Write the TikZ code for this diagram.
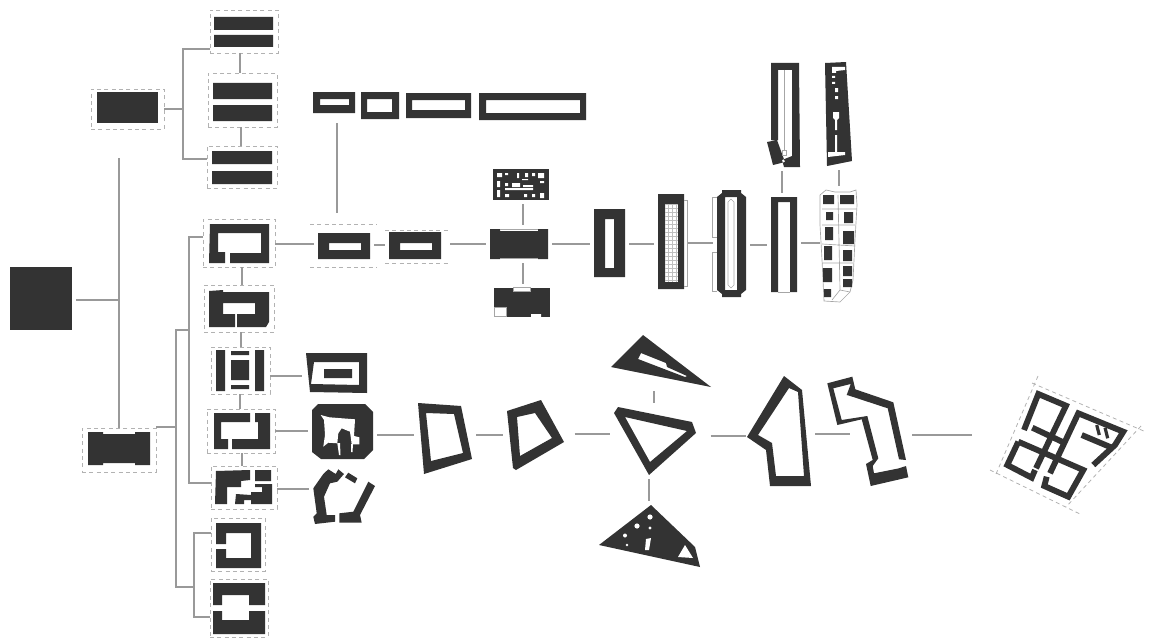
\documentclass[tikz,border=0pt]{standalone}
\usepackage{tikz}
\usetikzlibrary{fit}
\definecolor{ink}{HTML}{333333}
\definecolor{wire}{HTML}{999999}
\definecolor{fencegray}{HTML}{B2B2B2}

\begin{document}
\begin{tikzpicture}[
        x=0.75pt,y=-0.75pt,
        box/.style={inner sep=0pt,outer sep=3pt},
        site/.style={inner sep=0pt,outer sep=0pt,draw=fencegray,line width=.6pt,dash pattern=on 3pt off 2.5pt},
        fence/.style={draw=fencegray,line width=.6pt,dash pattern=on 3pt off 2.5pt},
        link/.style={draw=wire,line width=1pt},
        plan/.style={fill=ink,even odd rule},
        gap/.style={fill=white},
        trace/.style={draw=gray!70,line width=.5pt},
        wall/.style={draw=ink,line width=4.4pt,miter limit=4}
      ]
      \useasboundingbox (0,0) rectangle (1152,642);

      % left column
      \node (sq) [box,fit={(10,267) (72,330)}] {};
      \node (upper) [site,fit={(91,89) (164,129)}] {};
      \node (ua) [site,fit={(210,10) (278,53)}] {};
      \node (ub) [site,fit={(208,73) (277,127)}] {};
      \node (uc) [site,fit={(207,146) (277,188)}] {};
      \node (lower) [site,fit={(82,428) (156,472)}] {};
      \node (ra) [site,fit={(203,219) (275,267)}] {};
      \node (rb) [site,fit={(204,285) (274,332)}] {};
      \node (rc) [site,fit={(211,347) (270,394)}] {};
      \node (rd) [site,fit={(207,409) (275,453)}] {};
      \node (re) [site,fit={(211,466) (277,509)}] {};
      \node (rf) [site,fit={(211,518) (265,571)}] {};
      \node (rg) [site,fit={(210,579) (268,637)}] {};

      \fill[plan] (10,267) rectangle (72,330);
      \fill[plan] (97,92) rectangle (158,123);
      \fill[plan] (214,17) rectangle (273,30) (214,35) rectangle (273,47);
      \fill[plan] (213,83) rectangle (272,99) (213,105) rectangle (272,121);
      \fill[plan] (212,151) rectangle (272,164) (212,171) rectangle (272,184);
      \fill[plan] (88,432) -- (103,432) -- (103,434) -- (135,434) -- (135,432) -- (150,432) -- (150,465)
        -- (135,465) -- (135,463) -- (103,463) -- (103,465) -- (88,465) -- cycle;
      \fill[plan] (210,224) -- (269,224) -- (269,263) -- (230,263) -- (230,253) -- (261,253) -- (261,233)
        -- (218,233) -- (218,252) -- (225,252) -- (225,263) -- (209,263) -- cycle;
      \fill[plan] (209,291) -- (223,290) -- (223,292) -- (269,292) -- (269,322) -- (266,327) -- (237,327) -- (237,314)
        -- (255,314) -- (255,303) -- (223,303) -- (223,314) -- (235,314) -- (235,327) -- (209,327) -- cycle;
      \fill[plan] (216,350) rectangle (225,391) (255,350) rectangle (264,391) (231,360) rectangle (249,380)
        (231,351) rectangle (249,355) (231,385) rectangle (249,389);
      \fill[plan] (214,413) -- (250,413) -- (250,422) -- (221,422) -- (221,439) -- (228,439) -- (228,449) -- (214,449) -- cycle
        (255,413) -- (270,413) -- (270,449) -- (232,449) -- (232,439) -- (258,439) -- (258,422) -- (255,422) -- cycle;
      \fill[plan] (216,471) -- (250,470) -- (250,480) -- (241,481) -- (241,487) -- (227,487) -- (227,504) -- (215,504) -- cycle
        (255,470) rectangle (271,481)
        (255,484) -- (272,484) -- (272,504) -- (251,504) -- (251,500) -- (244,500) -- (244,504) -- (235,504) -- (236,494)
        -- (251,495) -- (251,492) -- (262,492) -- (262,487) -- (255,487) -- cycle;
      \fill[plan] (216,523) -- (261,523) -- (261,568) -- (216,568) -- (216,549) -- (226,549) -- (226,558) -- (251,558)
        -- (251,533) -- (226,533) -- (226,544) -- (216,544) -- cycle;
      \fill[plan] (213,583) -- (265,583) -- (265,605) -- (249,605) -- (249,595) -- (222,595) -- (222,605) -- (213,605) -- cycle
        (213,611) -- (222,611) -- (222,620) -- (249,620) -- (249,611) -- (265,611) -- (265,634) -- (213,634) -- cycle;

      % small courts
      \node (sa) [box,fit={(306,353) (367,393)}] {};
      \node (sb) [box,fit={(312,404) (373,459)}] {};
      \node (sc) [box,fit={(313,469) (375,524)}] {};
      \fill[plan] (306,353) -- (367,353) -- (367,393) -- (310,392) -- cycle
        (314,362) -- (359,362) -- (359,385) -- (311,384) -- cycle
        (324,369) rectangle (352,378);
      \fill[plan] (318,404) -- (365,404) -- (373,412) -- (373,450) -- (364,459) -- (321,459) -- (312,452) -- (312,410) -- cycle;
      \fill[gap] (320.7,415) -- (329.3,417.3) -- (355,419.3) -- (354,436) -- (359.3,437.3) -- (359.3,444.3) -- (351.7,444.3)
        -- (350,431.7) -- (341.7,428.3) -- (338.3,433.3) -- (337.3,443.3) -- (328.3,442.7) -- (323.3,446.7) -- (325,435) -- (324,420) -- cycle;
      \fill[gap] (337.3,443) -- (340,443) -- (340.5,455) -- (339,455) -- cycle (351,444) -- (353,444) -- (352.5,452) -- (351,452) -- cycle;
      \fill[plan] (323.3,474) -- (328.3,469.3) -- (335.7,474) -- (338.3,469.3) -- (344,474) -- (337.3,481.7) -- (330,483.3) -- (324,496.7)
        -- (326.7,515) -- (335,515) -- (335,521.7) -- (315,524) -- (313.3,516.7) -- (316.7,513.3) -- (313.3,488.3) -- cycle
        (348.3,472.7) -- (357.3,478.3) -- (355,483.3) -- (345,477.3) -- cycle
        (368.3,481.7) -- (375,486) -- (360,515) -- (361.7,522.7) -- (339.3,522.7) -- (339.3,513.3) -- (353.3,511.7) -- cycle;

      % upper row
      \node (ta) [box,fit={(313,92) (355,113)}] {};
      \node (tb) [box,fit={(361,92) (399,119)}] {};
      \node (tc) [box,fit={(406,93) (471,118)}] {};
      \node (td) [box,fit={(479,93) (586,120)}] {};
      \fill[plan] (313,92) rectangle (355,113) (320,99) rectangle (349,105);
      \fill[plan] (361,92) rectangle (399,119) (367,99) rectangle (392,112);
      \fill[plan] (406,93) rectangle (471,118) (412,100) rectangle (465,110);
      \fill[plan] (479,93) rectangle (586,120) (486,100) rectangle (580,113);
      \coordinate (tafoot) at (337,123);
      \coordinate (mahead) at (337,213);

      % middle row
      \node (ma) [box,fit={(318,233) (370,259)}] {};
      \node (mb) [box,fit={(389,232) (441,259)}] {};
      \node (mc) [box,fit={(490,229) (548,259)}] {};
      \node (mctop) [box,fit={(493,169) (549,200)}] {};
      \node (mcbot) [box,fit={(494,288) (550,317)}] {};
      \node (md) [box,fit={(594,209) (625,277)}] {};
      \node (me) [box,fit={(658,194) (684,289)}] {};
      \node (mf) [box,fit={(717,190) (746,297)}] {};
      \node (mg) [box,fit={(771,197) (797,292)}] {};
      \node (mh) [box,fit={(824,190) (857,302)}] {};
      \node (pa) [box,fit={(767,63) (800,167)}] {};
      \node (pb) [box,fit={(825,62) (852,166)}] {};
      \draw[fence] (310,224) -- (377,224) (310,267) -- (377,267);
      \draw[fence] (385,230) -- (450,230) (385,263) -- (450,263);
      \fill[plan] (318,233) rectangle (370,259) (329,243) rectangle (361,250);
      \fill[plan] (389,232) rectangle (441,259) (400,243) rectangle (432,250);
      \fill[plan] (490,229) -- (500,229) -- (500,231) -- (538,231) -- (538,229) -- (548,229) -- (548,259) -- (538,259)
        -- (538,258) -- (500,258) -- (500,259) -- (490,259) -- cycle;
      \draw[trace] (500,229.5) -- (538,229.5) (500,258.8) -- (538,258.8);
      \fill[plan] (493,169) rectangle (549,200);
      \fill[gap] (497,173) rectangle (502,177) (505,173) rectangle (508,175) (517,173) rectangle (519,178)
        (525,173) rectangle (528,177) (532,173) rectangle (535,176) (538,173) rectangle (544,178)
        (497,181) rectangle (500,187) (505,183) rectangle (508,186) (512,183) rectangle (520,187)
        (505,188) rectangle (533,190) (523,185) rectangle (533,187) (497,190) rectangle (500,197)
        (505,194) rectangle (509,197) (524,194) rectangle (527,197) (532,194) rectangle (535,197)
        (540,193) rectangle (544,198) (540,181) rectangle (544,183) (522,179) rectangle (528,180);
      \fill[plan] (494,288) rectangle (550,317);
      \fill[gap] (513,287.5) rectangle (530,291) (494.5,307) rectangle (506,316.5) (531,314) rectangle (541,317.5);
      \draw[trace] (494.5,307) rectangle (506,316.5) (513,287.5) rectangle (530,291);
      \fill[plan] (594,209) rectangle (625,277) (605,219) rectangle (614,268);
      \fill[plan] (658,194) rectangle (684,289) (665,204) rectangle (678,282);
      \draw[trace] (684,200) -- (687,200) -- (687,286) -- (684,286);
      \draw[trace,line width=.3pt,gray!50] (665,204) grid[xstep=4,ystep=-4] (678,282);
      \fill[plan] (722,190) -- (741,190) -- (741,193) -- (746,197) -- (746,290) -- (741,294) -- (741,297) -- (722,297) -- (722,294)
        -- (717,290) -- (717,197) -- (722,193) -- cycle
        (725,197) rectangle (737,290);
      \draw[trace] (728,202) -- (731,199) -- (734,202) -- (734,285) -- (731,288) -- (728,285) -- cycle;
      \draw[trace] (717,197) -- (712,197) -- (712,237) -- (717,237) (717,252) -- (712,252) -- (712,291) -- (717,291);
      \fill[plan] (771,197) -- (797,197) -- (797,292) -- (790,292) -- (790,202) -- (778,202) -- (778,292) -- (771,292) -- cycle;
      \draw[trace] (778,292) -- (790,292);
      \draw[trace] (820,195) -- (826,190) -- (835,192) -- (850,192) -- (856,190) -- (857,205) -- (855,240) -- (853,280) -- (850,292)
        -- (840,302) -- (824,301) -- (822,260) -- (820,225) -- cycle;
      \draw[trace] (822,209) -- (856,209) (822,225) -- (855,225) (822,244) -- (855,246) (822,263) -- (853,263)
        (838,195) -- (840,290) (840,290) -- (850,292) (840,290) -- (832,300);
      \fill[plan] (823,195) rectangle (834,204) (840,195) rectangle (854,204) (826,212) rectangle (833,220)
        (844,212) rectangle (853,223) (825,227) rectangle (833,240) (843,231) rectangle (854,244)
        (824,246) rectangle (832,260) (843,250) rectangle (852,261) (823,268) rectangle (832,282)
        (843,266) rectangle (852,276) (843,279) rectangle (852,287) (824,289) rectangle (831,297);
      \fill[plan] (771,63) -- (799,63) -- (800,167) -- (784,167) -- (782,160) -- (792,156) -- (792,70) -- (778,70) -- (778,140) -- (771,140) -- cycle
        (767,142) -- (777,140) -- (785,162) -- (773,165) -- cycle;
      \draw[trace] (784,70) -- (784,150) (782,150) rectangle (786,155);
      \fill[plan] (825,63) -- (846,62) -- (852,161) -- (827,166) -- cycle;
      \fill[gap] (832,67) -- (845,67) -- (845,70) -- (836,71) -- (836,73) -- (832,73) -- cycle
        (832,76) rectangle (835,78) (832,82) rectangle (835,84) (835,88) rectangle (838,92) (835,96) rectangle (838,99)
        (833,112) -- (839,112) -- (839,118) -- (837,120) -- (837,130) -- (835,130) -- (835,120) -- (833,118) -- cycle
        (835,135) rectangle (837,152) (828,152) -- (845,152) -- (845,155) -- (828,157) -- cycle;

      % lower row
      \node (qa) [box,fit={(418,403) (472,474)}] {};
      \node (qb) [box,fit={(507,400) (564,470)}] {};
      \node (qc) [box,fit={(614,407) (696,475)}] {};
      \node (qctop) [box,fit={(611,335) (711,387)}] {};
      \node (qcbot) [box,fit={(599,505) (700,567)}] {};
      \node (va) [box,fit={(750,376) (811,486)}] {};
      \node (vb) [box,fit={(827,377) (908,486)}] {};
      \node (wa) [box,fit={(996,375) (1142,513)}] {};
      \fill[plan] (418,403) -- (461,406) -- (472,459) -- (424,474) -- cycle
        (426,413) -- (454,414) -- (463,453) -- (431,461) -- cycle;
      \fill[plan] (507,411) -- (541,400) -- (564,442) -- (516,470) -- (513,468) -- cycle
        (517,417) -- (535,413) -- (552,438) -- (520,456) -- cycle;
      \fill[plan] (618,407) -- (692,422) -- (696,433) -- (649,475) -- (614,413) -- cycle
        (625,417) -- (687,431) -- (650,462) -- cycle;
      \fill[plan] (643,335) -- (711,387) -- (611,367) -- cycle
        (641,353) -- (666,363) -- (667,367) -- (687,376) -- (685,377) -- (638,359) -- cycle;
      \fill[plan] (651,505) -- (695,547) -- (700,567) -- (599,545) -- cycle;
      \fill[gap] (650,517) circle (2.6) (637,526) circle (2.6) (625,535.5) circle (2) (627,545) circle (1.3) (650,528) circle (1.6)
        (646,539) -- (651,538) -- (649,550) -- (645,550) -- cycle (678,557) -- (685,545) -- (693,558) -- cycle;
      \fill[plan] (784,376) -- (802,390) -- (811,486) -- (770,486) -- (766,450) -- (747,437) -- cycle
        (789,388) -- (798,392) -- (804,476) -- (776,476) -- (772,443) -- (758,435) -- cycle;
      \fill[plan] (827.3,383.3) -- (837.3,425) -- (861.7,419.3) -- (872.7,460) -- (866,464) -- (870.7,486) -- (908.3,477.3) -- (906,466)
        -- (899,468.3) -- (874,473.3) -- (872.7,466) -- (878.3,458.3) -- (867.3,416) -- (841.7,420) -- (833.3,388.3) -- (850.7,384)
        -- (846.7,395) -- (849.3,395.7) -- (887.7,408.3) -- (899,459.3) -- (906,460) -- (893.3,402.3) -- (855.3,389.3) -- (852.3,376.7) -- cycle;
      \draw[fence] (1032,383) -- (1146,432) (1141,426) -- (1066,507) (990,470) -- (1082,515) (1038,376) -- (996,474);
      \draw[wall] (1024,430) -- (1038.3,394) -- (1066,405.7) -- (1036,468.3);
      \draw[wall] (1032.3,427.7) -- (1063.3,442.3);
      \draw[wall] (1018.3,441.7) -- (1083.3,470) -- (1068.3,496.7) -- (1044.3,486) -- (1046.7,476.7);
      \draw[wall] (1018.3,441.7) -- (1007.3,465) -- (1031.7,477.7) -- (1035,470);
      \draw[wall] (1050,473.3) -- (1078.3,413.3) -- (1123.3,431.7) -- (1115,445) -- (1093.3,465);
      \draw[wall] (1081.7,435) -- (1113.3,448.3);
      \draw[wall,line width=2.4pt] (1096.7,425) -- (1099.3,435) (1105,427.7) -- (1107.7,438.3);

      % connectors
      \coordinate (trunk) at (119,300);
      \coordinate (trunktop) at (119,158);
      \draw[link] (sq.east |- trunk) -- (trunk);
      \draw[link] (trunktop) -- (lower.north);
      \coordinate (ubus) at (183,109);
      \coordinate (ubusa) at (183,49);
      \coordinate (ubusc) at (183,159);
      \draw[link] (upper.east) -- (ubus);
      \draw[link] (ua.west |- ubusa) -- (ubusa) -- (ubusc) -- (uc.west |- ubusc);
      \draw[link] (ua.south -| 240,0) -- (ub.north -| 240,0);
      \draw[link] (ub.south -| 241,0) -- (uc.north -| 241,0);
      \coordinate (rbusa) at (189,237);
      \coordinate (rbuse) at (189,483);
      \draw[link] (ra.west |- rbusa) -- (rbusa) -- (rbuse) -- (re.west |- rbuse);
      \coordinate (lbus) at (176,427);
      \coordinate (lbusb) at (176,330);
      \coordinate (lbusf) at (176,587);
      \draw[link] (lower.east |- lbus) -- (lbus);
      \draw[link] (rbusa |- lbusb) -- (lbusb) -- (lbusf) -- (194,587);
      \coordinate (fbusf) at (194,533);
      \coordinate (fbusg) at (194,617);
      \draw[link] (rf.west |- fbusf) -- (fbusf) -- (fbusg) -- (rg.west |- fbusg);
      \draw[link] (ra.south -| 242,0) -- (rb.north -| 242,0);
      \draw[link] (rb.south -| 241,0) -- (rc.north -| 241,0);
      \draw[link] (rc.south -| 240,0) -- (rd.north -| 240,0);
      \draw[link] (rd.south -| 242,0) -- (re.north -| 242,0);
      \draw[link] (rc.east |- 0,376) -- (sa.west |- 0,376);
      \draw[link] (rd.east |- 0,431) -- (sb.west |- 0,431);
      \draw[link] (re.east |- 0,489) -- (sc.west |- 0,489);
      \draw[link] (tafoot) -- (mahead);
      \draw[link] (ra.east |- 0,244) -- (ma.west |- 0,244);
      \draw[link] (ma.east |- 0,245) -- (mb.west |- 0,245);
      \draw[link,shorten <=4pt] (mb.east |- 0,244) -- (mc.west |- 0,244);
      \draw[link] (mctop.south -| 523,0) -- (mc.north -| 523,0);
      \draw[link] (mc.south -| 523,0) -- (mcbot.north -| 523,0);
      \draw[link] (mc.east |- 0,244) -- (md.west |- 0,244);
      \draw[link] (md.east |- 0,244) -- (me.west |- 0,244);
      \draw[link] (me.east |- 0,243) -- (mf.west |- 0,243);
      \draw[link] (mf.east |- 0,245) -- (mg.west |- 0,245);
      \draw[link] (mg.east |- 0,243) -- (mh.west |- 0,243);
      \draw[link] (pa.south -| 782,0) -- (mg.north -| 782,0);
      \draw[link] (pb.south -| 839,0) -- (mh.north -| 839,0);
      \draw[link] (sb.east |- 0,435) -- (qa.west |- 0,435);
      \draw[link] (qa.east |- 0,435) -- (qb.west |- 0,435);
      \draw[link,shorten <=5pt] (qb.east |- 0,434) -- (qc.west |- 0,434);
      \draw[link] (qctop.south -| 654,0) -- (qc.north -| 654,0);
      \draw[link] (qc.south -| 649,0) -- (qcbot.north -| 649,0);
      \draw[link,shorten <=8pt] (qc.east |- 0,436) -- (va.west |- 0,436);
      \coordinate (vbport) at (850,434);
      \draw[link] (va.east |- vbport) -- (vbport);
      \draw[link,shorten >=15pt] (vb.east |- 0,435) -- (wa.west |- 0,435);
    \end{tikzpicture}
\end{document}
